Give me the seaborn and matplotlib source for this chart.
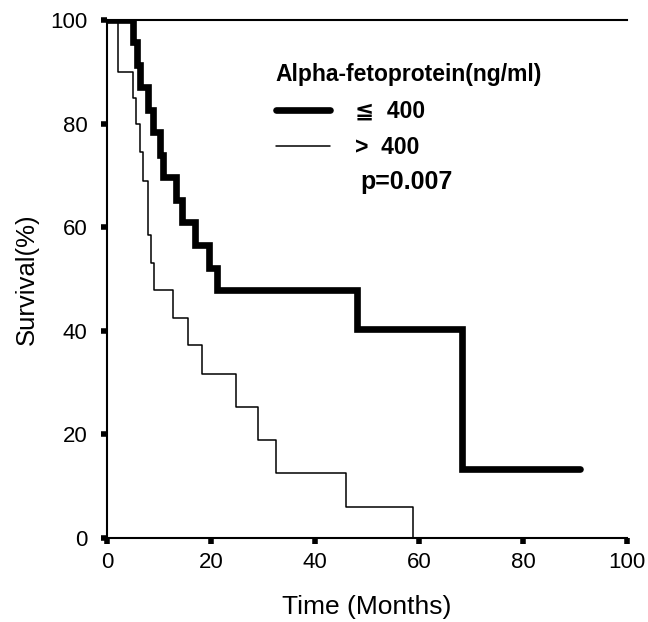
import numpy as np
import pandas as pd
import seaborn as sns
import matplotlib.pyplot as plt
from matplotlib.lines import Line2D

# AFP <= 400 ng/ml (thick line)
low_time = [0, 5.1, 5.7, 6.3, 7.9, 8.8, 10.2, 10.8, 13.3, 14.4, 16.9, 19.7, 21.1, 48.0, 68.2, 91.0]
low_surv = [100, 95.7, 91.3, 87.0, 82.6, 78.3, 73.9, 69.6, 65.2, 60.9, 56.5, 52.2, 47.8, 40.3, 13.3, 13.3]

# AFP > 400 ng/ml (thin line)
high_time = [0, 2.1, 5.0, 5.5, 6.3, 6.9, 7.9, 8.5, 9.0, 12.7, 15.6, 18.2, 24.9, 29.1, 32.4, 46.0, 58.8]
high_surv = [100, 90, 85, 80, 74.5, 69.0, 58.5, 53.0, 47.9, 42.4, 37.3, 31.7, 25.2, 18.9, 12.5, 5.9, 0]

x_ticks = [0, 20, 40, 60, 80, 100]
y_ticks = [0, 20, 40, 60, 80, 100]

sns.set_style("ticks")
plt.rcParams['font.family'] = ['Liberation Sans', 'DejaVu Sans']
plt.rcParams['text.color'] = 'black'
plt.rcParams['axes.labelcolor'] = 'black'
plt.rcParams['xtick.color'] = 'black'
plt.rcParams['ytick.color'] = 'black'
plt.rcParams['axes.edgecolor'] = 'black'

df_low = pd.DataFrame({'time': low_time, 'survival': low_surv})
df_high = pd.DataFrame({'time': high_time, 'survival': high_surv})

fig = plt.figure(figsize=(6.48, 6.22), dpi=100)
ax = fig.add_axes([0.165, 0.135, 0.803, 0.833])

sns.lineplot(ax=ax, data=df_high, x='time', y='survival', estimator=None,
             drawstyle='steps-post', color='black', linewidth=1.1)
sns.lineplot(ax=ax, data=df_low, x='time', y='survival', estimator=None,
             drawstyle='steps-post', color='black', linewidth=4.8,
             solid_joinstyle='miter')

ax.set_xlim(0, 100)
ax.set_ylim(0, 100)
ax.set_xticks(x_ticks)
ax.set_yticks(y_ticks)
ax.tick_params(axis='both', direction='out', length=4, width=4, labelsize=16)
ax.tick_params(axis='y', pad=10)
ax.tick_params(axis='x', pad=6)
ax.set_xlabel('Time (Months)', fontsize=19, labelpad=16)
ax.set_ylabel('Survival(%)', fontsize=18.5, labelpad=8)

for side in ['left', 'bottom', 'top']:
    ax.spines[side].set_linewidth(1.5)
ax.spines['right'].set_visible(False)

handles = [Line2D([], [], color='black', linewidth=4.8),
           Line2D([], [], color='black', linewidth=1.1)]
leg = ax.legend(handles, ['\u2266  400', '>  400'], loc='upper left',
                bbox_to_anchor=(0.285, 0.957), frameon=False, alignment='left',
                title='Alpha-fetoprotein(ng/ml)',
                title_fontproperties={'weight': 'bold', 'size': 16.5},
                prop={'weight': 'bold', 'size': 16.5},
                handlelength=2.35, handletextpad=1.1, labelspacing=0.6)
ax.text(0.487, 0.687, 'p=0.007', transform=ax.transAxes, fontsize=18,
        fontweight='bold', va='center', ha='left')

fig.savefig('out.png', dpi=100)
